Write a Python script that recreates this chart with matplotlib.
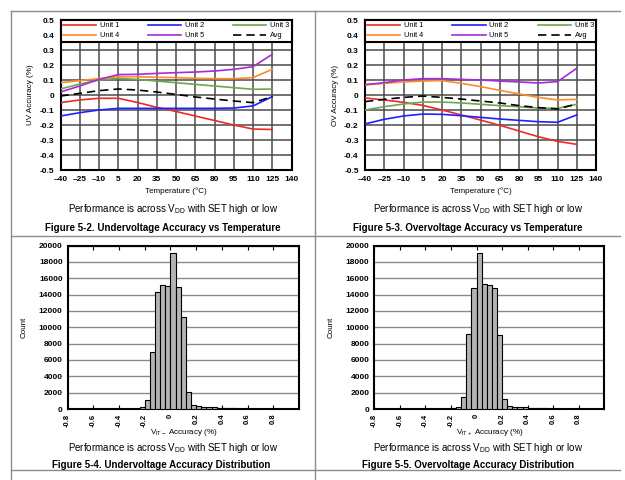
import matplotlib
matplotlib.use('Agg')
import matplotlib.pyplot as plt
from matplotlib.lines import Line2D

plt.rcParams['font.family'] = ['Liberation Sans', 'DejaVu Sans']
plt.rcParams['mathtext.default'] = 'regular'

# ---------------- data ----------------
temps = [-40, -25, -10, 5, 20, 35, 50, 65, 80, 95, 110, 125]
temp_ticks = [-40, -25, -10, 5, 20, 35, 50, 65, 80, 95, 110, 125, 140]
acc_ticks = [-0.5, -0.4, -0.3, -0.2, -0.1, 0, 0.1, 0.2, 0.3, 0.4, 0.5]
acc_tick_labels = ['-0.5', '-0.4', '-0.3', '-0.2', '-0.1', '0', '0.1', '0.2', '0.3', '0.4', '0.5']

uv_unit1 = [-0.051, -0.033, -0.022, -0.022, -0.050, -0.082, -0.110, -0.140, -0.170, -0.200, -0.227, -0.230]
uv_unit2 = [-0.140, -0.118, -0.100, -0.089, -0.089, -0.089, -0.089, -0.089, -0.089, -0.087, -0.073, -0.011]
uv_unit3 = [0.040, 0.073, 0.100, 0.111, 0.104, 0.093, 0.082, 0.071, 0.060, 0.049, 0.038, 0.040]
uv_unit4 = [0.082, 0.096, 0.109, 0.122, 0.122, 0.118, 0.116, 0.111, 0.109, 0.109, 0.116, 0.171]
uv_unit5 = [0.020, 0.060, 0.104, 0.136, 0.138, 0.144, 0.149, 0.153, 0.160, 0.171, 0.189, 0.271]
uv_avg = [-0.007, 0.011, 0.029, 0.040, 0.033, 0.020, 0.004, -0.013, -0.027, -0.040, -0.051, -0.011]

ov_unit1 = [-0.020, -0.033, -0.049, -0.069, -0.100, -0.133, -0.167, -0.202, -0.240, -0.278, -0.309, -0.329]
ov_unit2 = [-0.193, -0.162, -0.140, -0.127, -0.129, -0.138, -0.149, -0.160, -0.169, -0.178, -0.182, -0.133]
ov_unit3 = [-0.100, -0.078, -0.060, -0.047, -0.047, -0.053, -0.062, -0.071, -0.078, -0.087, -0.089, -0.062]
ov_unit4 = [0.067, 0.078, 0.087, 0.093, 0.096, 0.078, 0.056, 0.031, 0.007, -0.016, -0.033, -0.029]
ov_unit5 = [0.069, 0.082, 0.100, 0.109, 0.109, 0.104, 0.100, 0.093, 0.087, 0.080, 0.089, 0.178]
ov_avg = [-0.044, -0.029, -0.016, -0.007, -0.016, -0.027, -0.040, -0.053, -0.071, -0.084, -0.093, -0.060]

series_names = ['Unit 1', 'Unit 2', 'Unit 3', 'Unit 4', 'Unit 5', 'Avg']
series_colors = ['#f02828', '#1f1fff', '#6aa84f', '#ff8a2a', '#a52bdc', '#000000']

bin_lefts = [-0.28, -0.24, -0.20, -0.16, -0.12, -0.08, -0.04, 0.00, 0.04, 0.08, 0.12,
             0.16, 0.20, 0.24, 0.28, 0.32, 0.36, 0.40, 0.44, 0.48, 0.52, 0.56, 0.60]
bin_width = 0.04
uv_counts = [30, 200, 1100, 7000, 14300, 15200, 15100, 19100, 14900, 11200, 2100,
             550, 350, 280, 250, 220, 180, 150, 120, 90, 60, 30, 20]
ov_counts = [10, 30, 80, 250, 1500, 9200, 14800, 19100, 15300, 15200, 14800,
             9000, 1200, 350, 300, 250, 200, 170, 150, 130, 100, 60, 30]
hist_xticks = [-0.8, -0.6, -0.4, -0.2, 0, 0.2, 0.4, 0.6, 0.8]
hist_xlabels = ['-0.8', '-0.6', '-0.4', '-0.2', '0', '0.2', '0.4', '0.6', '0.8']
count_ticks = [0, 2000, 4000, 6000, 8000, 10000, 12000, 14000, 16000, 18000, 20000]

# ---------------- layout ----------------
W, H = 625, 480
fig = plt.figure(figsize=(W / 100, H / 100), dpi=100)


def box(l, t, r, b):
    return [l / W, 1 - b / H, (r - l) / W, (b - t) / H]


def fig_line(x0, y0, x1, y1, color='#8c8c8c', lw=1.0):
    fig.add_artist(Line2D([x0 / W, x1 / W], [1 - y0 / H, 1 - y1 / H],
                          transform=fig.transFigure, color=color, lw=lw))


def fig_text(x, y, s, **kw):
    fig.text(x / W, 1 - y / H, s, ha='center', va='center', **kw)


# frame lines
fig_line(11, 11, 620, 11)
fig_line(11, 11, 11, 480)
fig_line(315, 11, 315, 480)
fig_line(11, 236, 620, 236)
fig_line(11, 470, 620, 470)

TICK_FS = 6
LAB_FS = 5.8


def temp_chart(rect, data, ylabel):
    ax = fig.add_axes(rect)
    ax.set_xlim(-40, 140)
    ax.set_ylim(-0.5, 0.5)
    ax.set_xticks(temp_ticks)
    ax.set_xticklabels([str(t).replace('-', '\u2013') for t in temp_ticks])
    ax.set_yticks(acc_ticks)
    ax.set_yticklabels(acc_tick_labels)
    ax.grid(True, color='#4a4a4a', lw=1.1)
    ax.set_axisbelow(True)
    ax.tick_params(length=0, labelsize=TICK_FS, pad=4.5)
    for lbl in ax.get_xticklabels() + ax.get_yticklabels():
        lbl.set_fontweight('bold')
    for sp in ax.spines.values():
        sp.set_linewidth(1.5)
        sp.set_color('black')
    handles = []
    for vals, name, col in zip(data, series_names, series_colors):
        ls = (0, (5, 3)) if name == 'Avg' else '-'
        h, = ax.plot(temps, vals, color=col, lw=1.2, ls=ls, label=name, zorder=3)
        handles.append(h)
    order = [0, 3, 1, 4, 2, 5]
    leg = ax.legend([handles[i] for i in order], [series_names[i] for i in order],
                    ncol=3, loc='upper left', bbox_to_anchor=(0, 1, 1, 0), mode='expand',
                    borderaxespad=0, fontsize=5.3, handlelength=4.5, handletextpad=0.5,
                    borderpad=0.3, labelspacing=0.4, fancybox=False, framealpha=1,
                    edgecolor='black')
    leg.get_frame().set_linewidth(1.5)
    leg.set_zorder(5)
    ax.set_xlabel('Temperature (\u00b0C)', fontsize=LAB_FS, labelpad=3)
    ax.set_ylabel(ylabel, fontsize=LAB_FS, labelpad=4)
    return ax


def hist_chart(rect, counts, xlabel):
    ax = fig.add_axes(rect)
    ax.set_xlim(-0.8, 1.0)
    ax.set_ylim(0, 20000)
    ax.bar(bin_lefts, counts, width=bin_width, align='edge', color='#b4b4b4',
           edgecolor='black', lw=0.8, zorder=3)
    ax.set_yticks(count_ticks)
    ax.set_xticks(hist_xticks)
    ax.set_xticklabels(hist_xlabels, rotation=90)
    ax.yaxis.grid(True, color='#8a8a8a', lw=1.0)
    ax.set_axisbelow(True)
    ax.tick_params(axis='x', direction='in', top=True, length=3, width=0.8,
                   labelsize=5.5, pad=3.5)
    ax.tick_params(axis='y', direction='in', length=0, labelsize=TICK_FS, pad=3.5)
    for lbl in ax.get_xticklabels() + ax.get_yticklabels():
        lbl.set_fontweight('bold')
    for sp in ax.spines.values():
        sp.set_linewidth(1.5)
        sp.set_color('black')
    ax.set_xlabel(xlabel, fontsize=LAB_FS, labelpad=0)
    ax.set_ylabel('Count', fontsize=LAB_FS, labelpad=8)
    return ax


temp_chart(box(60.5, 20, 291.5, 170),
           [uv_unit1, uv_unit2, uv_unit3, uv_unit4, uv_unit5, uv_avg], 'UV Accuracy (%)')
temp_chart(box(365, 20, 596, 170),
           [ov_unit1, ov_unit2, ov_unit3, ov_unit4, ov_unit5, ov_avg], 'OV Accuracy (%)')
hist_chart(box(67.5, 245.5, 299, 409), uv_counts, r'V$_{IT-}$ Accuracy (%)')
hist_chart(box(374.3, 245.5, 604.3, 409), ov_counts, r'V$_{IT+}$ Accuracy (%)')

perf = r'Performance is across V$_{DD}$ with SET high or low'
fig_text(173, 209, perf, fontsize=7)
fig_text(478, 209, perf, fontsize=7)
fig_text(163, 228, 'Figure 5-2. Undervoltage Accuracy vs Temperature', fontsize=7, fontweight='bold')
fig_text(468, 228, 'Figure 5-3. Overvoltage Accuracy vs Temperature', fontsize=7, fontweight='bold')
fig_text(173, 448, perf, fontsize=7)
fig_text(478, 448, perf, fontsize=7)
fig_text(161, 465, 'Figure 5-4. Undervoltage Accuracy Distribution', fontsize=7, fontweight='bold')
fig_text(468, 465, 'Figure 5-5. Overvoltage Accuracy Distribution', fontsize=7, fontweight='bold')

fig.savefig('out.png', dpi=100)
